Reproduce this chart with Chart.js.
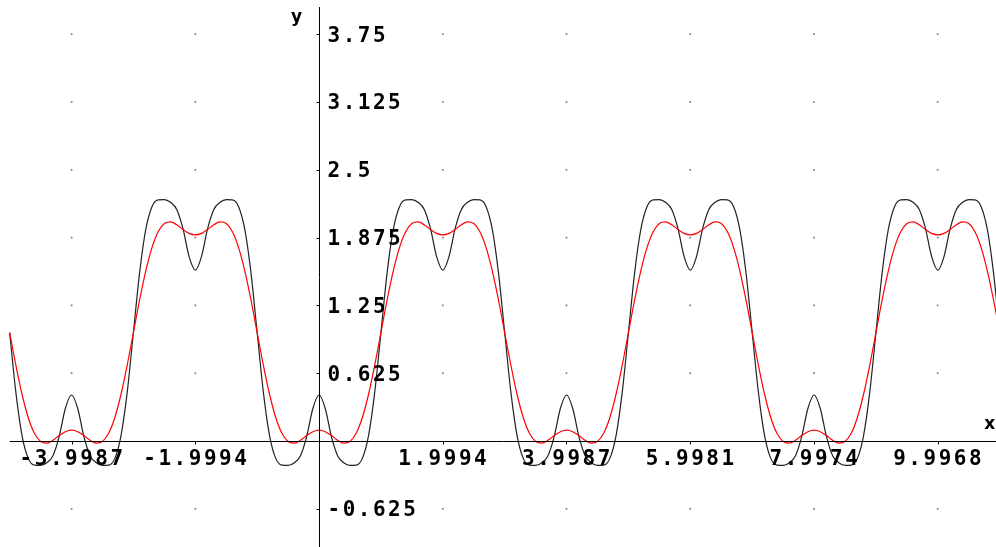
<!DOCTYPE html>
<html>
<head>
<meta charset="utf-8">
<script src="https://cdn.jsdelivr.net/npm/chart.js@4.4.0/dist/chart.umd.min.js"></script>
<style>
  html, body { margin: 0; padding: 0; background: #fff; }
  #wrap { width: 996px; height: 547px; }
</style>
</head>
<body>
<div id="wrap"><canvas id="myChart" width="996" height="547"></canvas></div>
<script>
// sample grid: x = -5.0, -4.9, ... 11.0
var xStart = -5;
var xStep = 0.1;

// black curve
var blackValues = [
    1.00, 0.45, 0.05, -0.16, -0.222, -0.225, -0.20, -0.135, 0.04, 0.30,
    0.424, 0.30, 0.04, -0.135, -0.20, -0.225, -0.222, -0.16, 0.05, 0.45,
    1.00, 1.55, 1.95, 2.16, 2.222, 2.225, 2.20, 2.135, 1.96, 1.70,
    1.576, 1.70, 1.96, 2.135, 2.20, 2.225, 2.222, 2.16, 1.95, 1.55,
    1.00, 0.45, 0.05, -0.16, -0.222, -0.225, -0.20, -0.135, 0.04, 0.30,
    0.424, 0.30, 0.04, -0.135, -0.20, -0.225, -0.222, -0.16, 0.05, 0.45,
    1.00, 1.55, 1.95, 2.16, 2.222, 2.225, 2.20, 2.135, 1.96, 1.70,
    1.576, 1.70, 1.96, 2.135, 2.20, 2.225, 2.222, 2.16, 1.95, 1.55,
    1.00, 0.45, 0.05, -0.16, -0.222, -0.225, -0.20, -0.135, 0.04, 0.30,
    0.424, 0.30, 0.04, -0.135, -0.20, -0.225, -0.222, -0.16, 0.05, 0.45,
    1.00, 1.55, 1.95, 2.16, 2.222, 2.225, 2.20, 2.135, 1.96, 1.70,
    1.576, 1.70, 1.96, 2.135, 2.20, 2.225, 2.222, 2.16, 1.95, 1.55,
    1.00, 0.45, 0.05, -0.16, -0.222, -0.225, -0.20, -0.135, 0.04, 0.30,
    0.424, 0.30, 0.04, -0.135, -0.20, -0.225, -0.222, -0.16, 0.05, 0.45,
    1.00, 1.55, 1.95, 2.16, 2.222, 2.225, 2.20, 2.135, 1.96, 1.70,
    1.576, 1.70, 1.96, 2.135, 2.20, 2.225, 2.222, 2.16, 1.95, 1.55,
    1.00
];

// red curve
var redValues = [
    1.00, 0.70, 0.431, 0.217, 0.071, -0.004, -0.019, 0.007, 0.05, 0.086,
    0.10, 0.086, 0.05, 0.007, -0.019, -0.004, 0.071, 0.217, 0.431, 0.70,
    1.00, 1.30, 1.569, 1.783, 1.929, 2.004, 2.019, 1.993, 1.95, 1.914,
    1.90, 1.914, 1.95, 1.993, 2.019, 2.004, 1.929, 1.783, 1.569, 1.30,
    1.00, 0.70, 0.431, 0.217, 0.071, -0.004, -0.019, 0.007, 0.05, 0.086,
    0.10, 0.086, 0.05, 0.007, -0.019, -0.004, 0.071, 0.217, 0.431, 0.70,
    1.00, 1.30, 1.569, 1.783, 1.929, 2.004, 2.019, 1.993, 1.95, 1.914,
    1.90, 1.914, 1.95, 1.993, 2.019, 2.004, 1.929, 1.783, 1.569, 1.30,
    1.00, 0.70, 0.431, 0.217, 0.071, -0.004, -0.019, 0.007, 0.05, 0.086,
    0.10, 0.086, 0.05, 0.007, -0.019, -0.004, 0.071, 0.217, 0.431, 0.70,
    1.00, 1.30, 1.569, 1.783, 1.929, 2.004, 2.019, 1.993, 1.95, 1.914,
    1.90, 1.914, 1.95, 1.993, 2.019, 2.004, 1.929, 1.783, 1.569, 1.30,
    1.00, 0.70, 0.431, 0.217, 0.071, -0.004, -0.019, 0.007, 0.05, 0.086,
    0.10, 0.086, 0.05, 0.007, -0.019, -0.004, 0.071, 0.217, 0.431, 0.70,
    1.00, 1.30, 1.569, 1.783, 1.929, 2.004, 2.019, 1.993, 1.95, 1.914,
    1.90, 1.914, 1.95, 1.993, 2.019, 2.004, 1.929, 1.783, 1.569, 1.30,
    1.00
];

var xTicks = [-3.9987, -1.9994, 1.9994, 3.9987, 5.9981, 7.9974, 9.9968];
var yTicks = [3.75, 3.125, 2.5, 1.875, 1.25, 0.625, -0.625];
var xRange = [-5, 11];
var yRange = [-1, 4];

document.addEventListener("DOMContentLoaded", function() {

    var ctx = document.getElementById("myChart").getContext("2d");

    function toPoints(values) {
        var pts = [];
        for (var i = 0; i < values.length; i++) {
            pts.push({ x: xStart + i * xStep, y: values[i] });
        }
        return pts;
    }

    // grey dots where the tick lines would cross
    var gridDots = [];
    xTicks.forEach(function(xv) {
        yTicks.forEach(function(yv) {
            gridDots.push({ x: xv, y: yv });
        });
    });

    var axesPlugin = {
        id: 'axes',
        afterDatasetsDraw: function(chart) {
            var c = chart.ctx, xs = chart.scales.x, ys = chart.scales.y;
            var ox = Math.round(xs.getPixelForValue(0)) + 0.5;
            var oy = Math.round(ys.getPixelForValue(0)) + 0.5;
            c.save();
            c.strokeStyle = '#000';
            c.lineWidth = 1;
            c.beginPath();
            c.moveTo(xs.getPixelForValue(xRange[0]), oy);
            c.lineTo(xs.getPixelForValue(xRange[1]), oy);
            c.moveTo(ox, ys.getPixelForValue(yRange[1]));
            c.lineTo(ox, ys.getPixelForValue(yRange[0]));
            xTicks.forEach(function(v) {
                var px = Math.round(xs.getPixelForValue(v)) + 0.5;
                c.moveTo(px, oy);
                c.lineTo(px, oy + 3);
            });
            yTicks.forEach(function(v) {
                var py = Math.round(ys.getPixelForValue(v)) + 0.5;
                c.moveTo(ox - 3, py);
                c.lineTo(ox, py);
            });
            c.stroke();

            c.fillStyle = '#000';
            c.font = 'bold 21px "DejaVu Sans Mono"';
            c.letterSpacing = '2.5px';
            c.textBaseline = 'alphabetic';
            c.textAlign = 'center';
            xTicks.forEach(function(v) {
                c.fillText(String(v), xs.getPixelForValue(v) + 1, oy + 23);
            });
            c.textAlign = 'left';
            yTicks.forEach(function(v) {
                c.fillText(String(v), ox + 8, ys.getPixelForValue(v) + 7.5);
            });

            c.letterSpacing = '0px';
            c.font = 'bold 17px "DejaVu Sans"';
            c.textAlign = 'center';
            c.fillText('y', ox - 23, ys.getPixelForValue(yRange[1]) + 15);
            c.fillText('x', xs.getPixelForValue(xRange[1]) - 10, oy - 13);
            c.restore();
        }
    };

    var data = {
        datasets: [{
            label: "red",
            data: toPoints(redValues),
            borderColor: "#ff0000",
            borderWidth: 1.2,
            pointRadius: 0,
            cubicInterpolationMode: 'monotone'
        }, {
            label: "black",
            data: toPoints(blackValues),
            borderColor: "#222222",
            borderWidth: 1.2,
            pointRadius: 0,
            cubicInterpolationMode: 'monotone'
        }, {
            type: 'scatter',
            label: "grid",
            data: gridDots,
            pointStyle: 'rect',
            pointRadius: 1.2,
            borderWidth: 0,
            backgroundColor: "#7a7a7a"
        }]
    };

    var options = {
        responsive: false,
        animation: false,
        events: [],
        layout: { padding: 0, autoPadding: false },
        plugins: {
            legend: { display: false },
            tooltip: { enabled: false }
        },
        scales: {
            x: { type: 'linear', min: -5.156, max: 10.94, display: false },
            y: { type: 'linear', min: -0.977, max: 4.065, display: false }
        }
    };

    var myNewChart = new Chart(ctx, {
        type: 'line',
        data: data,
        options: options,
        plugins: [axesPlugin]
    });
});
</script>
</body>
</html>
